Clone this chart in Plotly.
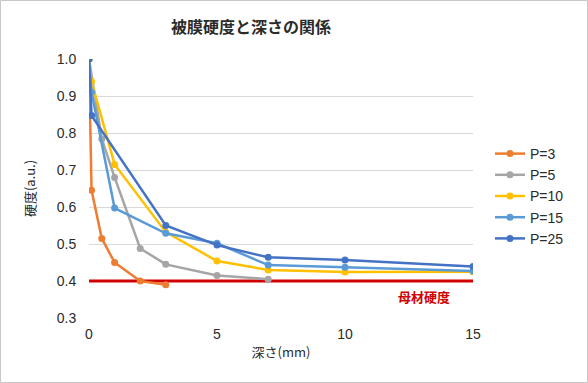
import plotly.graph_objects as go

# Data
x_p3 = [0, 0.1, 0.5, 1, 2, 3]
y_p3 = [1.0, 0.645, 0.515, 0.45, 0.40, 0.39]
x_p5 = [0, 0.5, 1, 2, 3, 5, 7]
y_p5 = [1.0, 0.784, 0.68, 0.488, 0.445, 0.415, 0.405]
x_p10 = [0, 0.1, 1, 3, 5, 7, 10, 15]
y_p10 = [1.0, 0.939, 0.715, 0.532, 0.454, 0.43, 0.424, 0.425]
x_p15 = [0, 0.1, 1, 3, 5, 7, 10, 15]
y_p15 = [1.0, 0.91, 0.597, 0.529, 0.502, 0.443, 0.437, 0.427]
x_p25 = [0, 0.1, 3, 5, 7, 10, 15]
y_p25 = [1.0, 0.847, 0.55, 0.497, 0.464, 0.457, 0.439]
series_names = ["P=3", "P=5", "P=10", "P=15", "P=25"]
base_x = [0, 15]
base_y = [0.4, 0.4]
base_label = "母材硬度"

colors = ["#ED7D31", "#A5A5A5", "#FFC000", "#5B9BD5", "#4472C4"]
CJK = "Noto Sans CJK JP"
LAT = "Liberation Sans, Arial, sans-serif"
TXT = "#2b2b2b"

fig = go.Figure()
fig.add_trace(go.Scatter(x=base_x, y=base_y, mode="lines",
                         line=dict(color="#D00000", width=3),
                         showlegend=False, hoverinfo="skip"))
for xs, ys, name, c in zip([x_p3, x_p5, x_p10, x_p15, x_p25],
                           [y_p3, y_p5, y_p10, y_p15, y_p25],
                           series_names, colors):
    fig.add_trace(go.Scatter(x=xs, y=ys, name=name, mode="lines+markers",
                             line=dict(color=c, width=2.5),
                             marker=dict(color=c, size=7)))

fig.add_annotation(x=13.1, y=0.39, text="<b>" + base_label + "</b>", showarrow=False,
                   yanchor="top", font=dict(family=CJK, size=13, color="#D00000"))

W, H = 588, 383
l, r, t, b = 89, 115, 59, 65
pw, ph = W - l - r, H - t - b
fig.add_shape(type="rect", xref="paper", yref="paper",
              x0=(0.5 - l) / pw, x1=(W - 0.5 - l) / pw,
              y0=(0.5 - b) / ph, y1=(H - b - 0.5) / ph,
              line=dict(color="#C8C8C8", width=1), fillcolor="rgba(0,0,0,0)", layer="below")

fig.update_layout(
    width=W, height=H,
    margin=dict(l=l, r=r, t=t, b=b),
    paper_bgcolor="white", plot_bgcolor="white",
    title=dict(text="<b>被膜硬度と深さの関係</b>", x=251 / W, xanchor="center",
               y=1 - 27 / H, yanchor="middle",
               font=dict(family=CJK, size=16, color=TXT)),
    xaxis=dict(range=[0, 15], tickvals=[0, 5, 10, 15], showgrid=False, zeroline=False,
               showline=False, ticks="outside", ticklen=3, tickcolor="rgba(0,0,0,0)",
               tickfont=dict(family=LAT, size=14, color=TXT),
               title=dict(text="深さ(mm)", font=dict(family=CJK, size=13, color=TXT),
                          standoff=7)),
    yaxis=dict(range=[0.3, 1.0], dtick=0.1, tickformat=".1f", showgrid=True,
               gridcolor="#D9D9D9", gridwidth=1, zeroline=False, showline=False,
               ticks="outside", ticklen=9, tickcolor="rgba(0,0,0,0)",
               tickfont=dict(family=LAT, size=14, color=TXT),
               title=dict(text="硬度(a.u.)", font=dict(family=CJK, size=13, color=TXT),
                          standoff=18)),
    legend=dict(x=(497 - l - 7) / pw, y=(318 - 196) / ph, xanchor="left", yanchor="middle",
                font=dict(family=LAT, size=14, color=TXT),
                itemwidth=30, bgcolor="rgba(0,0,0,0)"),
    showlegend=True,
)

fig.write_html("out.html", config={"displayModeBar": False},
               post_script="document.body.style.margin='0px';document.body.style.padding='0px';")
